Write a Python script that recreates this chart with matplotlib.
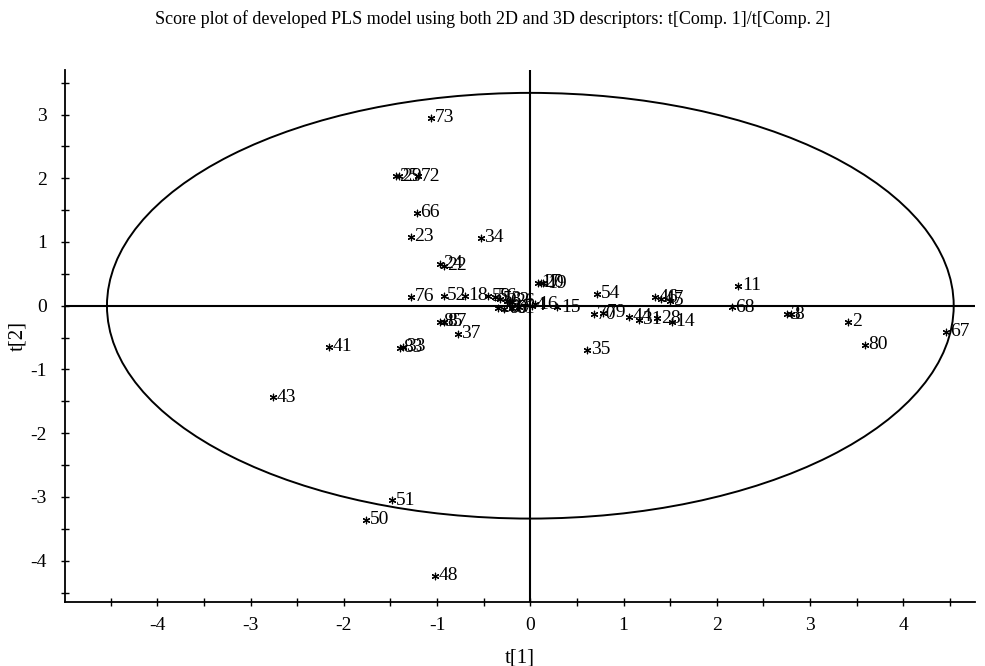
import matplotlib.pyplot as plt
from matplotlib.patches import Ellipse
from matplotlib.ticker import MultipleLocator

plt.rcParams['font.family'] = ['Liberation Serif', 'DejaVu Serif']
plt.rcParams['axes.unicode_minus'] = False

# score values
labels = ['73', '25', '29', '72', '66', '23', '34', '24', '22', '76', '52',
          '18', '59', '56', '53', '62', '26', '30', '60', '61', '7', '4', '16',
          '17', '20', '19', '15', '54', '70', '79', '44', '31', '28', '14',
          '46', '47', '5', '11', '68', '3', '8', '2', '80', '67', '35', '37',
          '85', '87', '83', '33', '41', '43', '51', '50', '48']
t1 = [-1.06, -1.44, -1.41, -1.21, -1.22, -1.28, -0.53, -0.97, -0.93, -1.28, -0.93,
      -0.70, -0.45, -0.38, -0.33, -0.25, -0.20, -0.35, -0.28, -0.20, -0.12, 0.02, 0.05,
      0.08, 0.11, 0.14, 0.29, 0.72, 0.68, 0.78, 1.06, 1.16, 1.36, 1.52,
      1.34, 1.40, 1.50, 2.23, 2.16, 2.75, 2.79, 3.41, 3.59, 4.46, 0.61, -0.78,
      -0.97, -0.93, -1.40, -1.37, -2.16, -2.76, -1.48, -1.76, -1.02]
t2 = [2.95, 2.03, 2.03, 2.03, 1.46, 1.08, 1.07, 0.66, 0.63, 0.14, 0.16,
      0.16, 0.15, 0.14, 0.10, 0.08, 0.06, -0.03, -0.05, -0.04, -0.02, 0.00, 0.02,
      0.36, 0.36, 0.35, -0.02, 0.19, -0.13, -0.11, -0.17, -0.22, -0.20, -0.25,
      0.13, 0.11, 0.08, 0.31, -0.02, -0.13, -0.13, -0.25, -0.61, -0.41, -0.69, -0.44,
      -0.25, -0.25, -0.66, -0.64, -0.64, -1.44, -3.05, -3.36, -4.24]

fig = plt.figure(figsize=(9.85, 6.66), dpi=100)
ax = fig.add_axes([0.066, 0.096, 0.924, 0.799])

ax.scatter(t1, t2, marker=(6, 2, 0), s=22, color='black', linewidths=0.9, zorder=3)
for lab, x, y in zip(labels, t1, t2):
    ax.annotate(lab, (x, y), xytext=(2.5, 0), textcoords='offset points',
                va='center', ha='left', fontsize=14)

# Hotelling T2 ellipse
ax.add_patch(Ellipse((0, 0), 2 * 4.54, 2 * 3.34, fill=False, color='black', lw=1.4))
ax.axhline(0, color='black', lw=1.5)
ax.axvline(0, color='black', lw=1.5)

ax.set_xlim(-4.99, 4.77)
ax.set_ylim(-4.65, 3.70)
ax.xaxis.set_major_locator(MultipleLocator(1))
ax.xaxis.set_minor_locator(MultipleLocator(0.5))
ax.yaxis.set_major_locator(MultipleLocator(1))
ax.yaxis.set_minor_locator(MultipleLocator(0.5))
ax.tick_params(which='both', direction='inout', length=6, width=1, labelsize=14)
ax.tick_params(axis='x', pad=8)
ax.tick_params(axis='y', pad=10)
ax.spines['top'].set_visible(False)
ax.spines['right'].set_visible(False)
ax.spines['left'].set_linewidth(1.3)
ax.spines['bottom'].set_linewidth(1.3)

ax.set_xlabel('t[1]', fontsize=15, labelpad=10)
ax.set_ylabel('t[2]', fontsize=15, labelpad=2)
fig.suptitle('Score plot of developed PLS model using both 2D and 3D descriptors: t[Comp. 1]/t[Comp. 2]',
             y=0.985, fontsize=13)

plt.savefig('out.png')
